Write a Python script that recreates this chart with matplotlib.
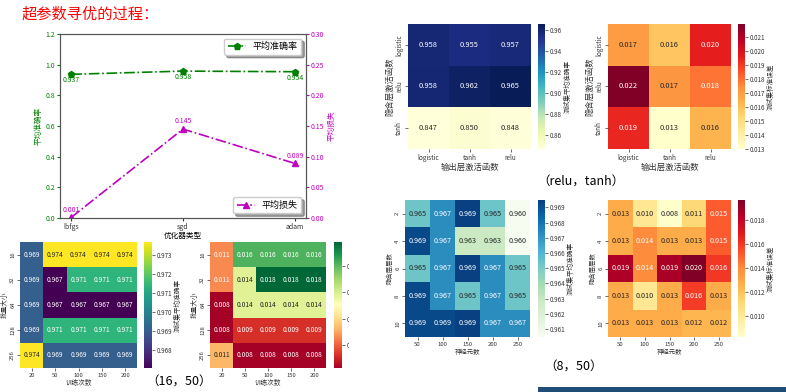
import numpy as np
import matplotlib.pyplot as plt
import seaborn as sns
from matplotlib.patches import Rectangle
from matplotlib.ticker import MultipleLocator

plt.rcParams['font.family'] = ['Noto Sans CJK SC', 'DejaVu Sans']
plt.rcParams['axes.unicode_minus'] = False

# optimizer comparison
optimizers = ['lbfgs', 'sgd', 'adam']
opt_acc = [0.937, 0.958, 0.954]
opt_loss = [0.001, 0.145, 0.089]

# batch size x epochs
batch_sizes = ['16', '32', '64', '128', '256']
epochs = ['20', '50', '100', '150', '200']
batch_acc = [[0.96904, 0.97366, 0.97366, 0.97366, 0.97366],
             [0.96904, 0.96706, 0.97135, 0.97135, 0.97135],
             [0.96904, 0.96706, 0.96706, 0.96706, 0.96706],
             [0.96904, 0.97135, 0.97135, 0.97135, 0.97135],
             [0.97366, 0.96904, 0.96904, 0.96904, 0.96904]]
batch_loss = [[0.0106, 0.0162, 0.0162, 0.0162, 0.0162],
              [0.0106, 0.0138, 0.01782, 0.01782, 0.01782],
              [0.00825, 0.0138, 0.0138, 0.0138, 0.0138],
              [0.00825, 0.0092, 0.0092, 0.0092, 0.0092],
              [0.0113, 0.00825, 0.00825, 0.00825, 0.00825]]

# activation functions (hidden x output)
acts = ['logistic', 'tanh', 'relu']
hidden_acts = ['logistic', 'relu', 'tanh']
act_acc = [[0.9580, 0.9552, 0.9571],
           [0.9583, 0.9620, 0.9652],
           [0.8472, 0.8500, 0.8481]]
act_loss = [[0.0170, 0.0158, 0.0196],
            [0.0219, 0.0172, 0.0179],
            [0.0194, 0.0130, 0.0163]]

# hidden layers x neurons
layers = ['2', '4', '6', '8', '10']
neurons = ['50', '100', '150', '200', '250']
layer_acc = [[0.9653, 0.9672, 0.96948, 0.9653, 0.96048],
             [0.9692, 0.9672, 0.9628, 0.9628, 0.96048],
             [0.9653, 0.9672, 0.96948, 0.9672, 0.9653],
             [0.9692, 0.9672, 0.9653, 0.9672, 0.9653],
             [0.9692, 0.9692, 0.96948, 0.9672, 0.9672]]
layer_loss = [[0.0128, 0.0101, 0.00825, 0.0111, 0.0151],
              [0.0128, 0.0140, 0.0128, 0.0128, 0.0151],
              [0.0186, 0.0140, 0.0187, 0.0197, 0.0160],
              [0.0128, 0.0101, 0.0128, 0.0159, 0.0128],
              [0.0128, 0.0128, 0.0128, 0.0124, 0.0124]]

W, H = 786, 392
fig = plt.figure(figsize=(W / 100, H / 100), dpi=100)


def box(x0, y0, x1, y1):
    return [x0 / W, 1 - y1 / H, (x1 - x0) / W, (y1 - y0) / H]


fig.text(22 / W, 1 - 14 / H, '超参数寻优的过程：', color='red', fontsize=11, va='center')

# line chart with twin axes
ax = fig.add_axes(box(60, 34, 306, 218))
x = np.arange(len(optimizers))
ax.plot(x, opt_acc, 'g-.', marker='p', ms=4.5, lw=1.2, label='平均准确率')
for i, v in enumerate(opt_acc):
    ax.text(i, v - 0.012, '%.3f' % v, color='g', fontsize=5, ha='center', va='top')
ax.set_ylim(0, 1.2)
ax.set_xticks(x)
ax.set_xticklabels(optimizers)
ax.tick_params(axis='x', labelsize=5, length=2, pad=1.5, colors='#333')
ax.tick_params(axis='y', labelsize=5, length=2, pad=1.5, colors='g')
ax.set_ylabel('平均准确率', color='g', fontsize=5.5, labelpad=2)
ax.set_xlabel('优化器类型', fontsize=5.5, labelpad=1)
ax.legend(loc='upper right', shadow=True, fontsize=6.5)
for s in ax.spines.values():
    s.set_color('#555')

ax2 = ax.twinx()
ax2.plot(x, opt_loss, 'm-.', marker='^', ms=4, lw=1.2, label='平均损失')
for i, v in enumerate(opt_loss):
    ax2.text(i, v + 0.006, '%.3f' % v, color='m', fontsize=5, ha='center', va='bottom')
ax2.set_ylim(0, 0.30)
ax2.tick_params(axis='y', labelsize=5, length=2, pad=1.5, colors='m')
ax2.set_ylabel('平均损失', color='m', fontsize=5.5, labelpad=2)
ax2.legend(loc='lower right', shadow=True, fontsize=6.5)
for s in ax2.spines.values():
    s.set_color('#555')


def heat(rect, crect, data, xt, yt, cmap, xlab, ylab, clab, afs, tfs, lfs, cfmt, step=None):
    hax = fig.add_axes(rect)
    cax = fig.add_axes(crect)
    kws = {'format': cfmt}
    if step:
        kws['ticks'] = MultipleLocator(step)
    sns.heatmap(np.array(data), ax=hax, cbar_ax=cax, cmap=cmap, annot=True, fmt='.3f',
                annot_kws={'size': afs}, xticklabels=xt, yticklabels=yt, cbar_kws=kws)
    hax.tick_params(labelsize=tfs, length=2, width=0.5, pad=1.5, colors='#333')
    plt.setp(hax.get_yticklabels(), rotation=90, va='center')
    plt.setp(hax.get_xticklabels(), rotation=0)
    hax.set_xlabel(xlab, fontsize=lfs, color='#333', labelpad=1)
    hax.set_ylabel(ylab, fontsize=lfs, color='#333', labelpad=1)
    cax.tick_params(labelsize=4.5, length=2, width=0.5, pad=1.5, colors='#333')
    cax.set_ylabel(clab, fontsize=4.8, color='#333', labelpad=1)
    return hax


heat(box(20, 242, 137, 368), box(144, 242, 152, 368), batch_acc, epochs, batch_sizes,
     'viridis', '训练次数', '批量大小', '测试集平均准确率', 4.8, 4.2, 4.8, '%.3f')
heat(box(210, 242, 326, 368), box(334, 242, 342, 368), batch_loss, epochs, batch_sizes,
     'RdYlGn', '训练次数', '批量大小', '测试集标准误差', 4.8, 4.2, 4.8, '%.3f')

heat(box(408, 24, 531, 149), box(538, 24, 545, 149), act_acc, acts, hidden_acts,
     'YlGnBu', '输出层激活函数', '隐含层激活函数', '测试集平均准确率', 5.4, 4.6, 6, '%.2f')
heat(box(608, 24, 731, 149), box(738, 24, 745, 149), act_loss, acts, hidden_acts,
     'YlOrRd', '输出层激活函数', '隐含层激活函数', '测试集标准误差', 5.4, 4.6, 6, '%.3f')

heat(box(405, 200, 530, 337), box(538, 200, 545, 337), layer_acc, neurons, layers,
     'GnBu', '神经元数', '隐含层层数', '测试集平均准确率', 5.2, 4.3, 4.6, '%.3f', 0.001)
heat(box(608, 200, 731, 337), box(738, 200, 745, 337), layer_loss, neurons, layers,
     'YlOrRd', '神经元数', '隐含层层数', '测试集标准误差', 5.2, 4.3, 4.6, '%.3f')

# captions
fig.text(581 / W, 1 - 182 / H, '（relu，tanh）', fontsize=9, ha='center', va='center')
fig.text(179 / W, 1 - 382 / H, '（16，50）', fontsize=9, ha='center', va='center')
fig.text(574 / W, 1 - 367 / H, '（8，50）', fontsize=9, ha='center', va='center')

# cropped edge of the screenshot and the blue strip at the bottom
fig.patches.append(Rectangle((349 / W, 0), 31 / W, 1 - 236 / H, transform=fig.transFigure,
                             facecolor='white', edgecolor='none', zorder=10))
fig.patches.append(Rectangle((538 / W, 0), 1 - 538 / W, 5 / H, transform=fig.transFigure,
                             facecolor='#1f4e79', edgecolor='none', zorder=10))

fig.savefig('out.png', dpi=100)
